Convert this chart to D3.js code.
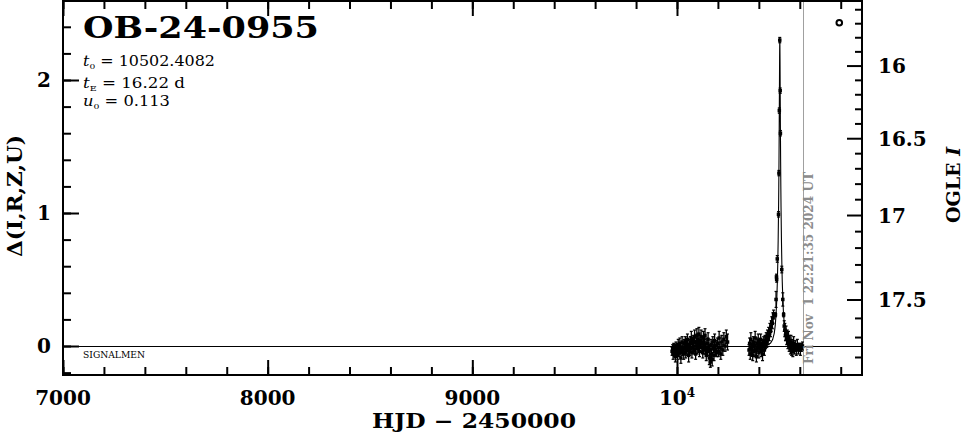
<!DOCTYPE html>
<html><head><meta charset="utf-8">
<script src="https://cdn.jsdelivr.net/npm/d3@7"></script>
<style>body{margin:0;background:#fff}svg{display:block}</style>
</head><body>
<svg id="c" width="966" height="434"></svg>
<script>
// ---------- data ----------
const eventName = "OB-24-0955";
const paramT0 = "10502.4082";
const paramTE = "16.22";
const paramU0 = "0.113";
const xMajorTicks = [7000, 8000, 9000, 10000];
const xTickLabels = ["7000", "8000", "9000", "10"];
const xMinorTicks = d3.range(7000, 10901, 200);
const yMajorTicks = [0, 1, 2];
const yMinorTicks = [-0.2,0,0.2,0.4,0.6,0.8,1,1.2,1.4,1.6,1.8,2,2.2,2.4];
const magMajorTicks = [16, 16.5, 17, 17.5];
const magTickLabels = ["16", "16.5", "17", "17.5"];
const magMinorTicks = [15.6,15.7,15.8,15.9,16,16.1,16.2,16.3,16.4,16.5,16.6,16.7,16.8,16.9,17,17.1,17.2,17.3,17.4,17.5,17.6,17.7,17.8];
const baseMag = 17.743;   // OGLE I at delta = 0
const sourceFrac = 0.669; // blending fraction giving the right-hand axis
const nowHJD = 10616.43;
const nowLabel = "Fri Nov  1 22:21:35 2024 UT";
const legendMarker = [[10793, 2.43]];

// [HJD-2450000, delta, error]
const season2023 = [
[9976,-0.04,0.03],[9979,-0.02,0.03],[9981,-0.06,0.04],[9984,-0.01,0.03],[9987,-0.05,0.03],
[9990,-0.03,0.04],[9992,-0.08,0.04],[9995,0.00,0.03],[9998,-0.04,0.03],[10001,-0.02,0.04],
[10003,-0.07,0.03],[10006,0.01,0.04],[10009,-0.03,0.03],[10011,-0.05,0.03],[10014,0.02,0.04],
[10017,-0.01,0.03],[10019,-0.09,0.04],[10022,-0.03,0.03],[10025,0.03,0.04],[10027,-0.04,0.03],
[10030,-0.01,0.03],[10033,-0.06,0.04],[10035,0.02,0.03],[10038,-0.02,0.04],[10041,0.04,0.03],
[10043,-0.05,0.04],[10046,0.00,0.03],[10049,-0.03,0.04],[10051,0.05,0.04],[10054,-0.01,0.03],
[10057,-0.07,0.05],[10059,0.01,0.04],[10062,-0.04,0.03],[10065,0.03,0.04],[10067,-0.02,0.03],
[10070,0.06,0.05],[10073,-0.05,0.04],[10075,0.02,0.03],[10078,-0.01,0.04],[10081,0.04,0.04],
[10083,-0.03,0.03],[10086,0.07,0.05],[10089,0.00,0.04],[10091,-0.06,0.04],[10094,0.03,0.03],
[10097,0.08,0.05],[10099,-0.02,0.04],[10102,0.05,0.04],[10105,0.01,0.03],[10107,0.09,0.05],
[10110,-0.04,0.04],[10113,0.04,0.04],[10115,0.02,0.03],[10118,0.07,0.05],[10121,-0.01,0.04],
[10123,0.03,0.04],[10126,-0.05,0.04],[10129,0.06,0.05],[10131,-0.03,0.03],[10134,0.01,0.04],
[10137,0.08,0.05],[10140,-0.02,0.04],[10143,-0.07,0.04],[10146,0.02,0.04],[10149,-0.04,0.03],
[10152,0.05,0.05],[10155,-0.01,0.04],[10158,-0.09,0.05],[10160,-0.03,0.04],[10163,-0.12,0.04],
[10166,0.01,0.04],[10169,-0.06,0.04],[10172,-0.10,0.05],[10175,0.03,0.04],[10178,-0.02,0.03],
[10181,-0.07,0.04],[10184,0.04,0.05],[10187,-0.03,0.04],[10190,0.00,0.04],[10194,-0.05,0.03],
[10198,0.02,0.04],[10202,-0.04,0.04],[10206,0.06,0.05],[10210,-0.01,0.04],[10214,-0.06,0.04],
[10219,0.03,0.05],[10224,-0.03,0.04],[10229,0.05,0.05],[10235,0.00,0.04],[10241,0.07,0.05],
[10247,0.03,0.06]
];
const season2024 = [
[10352,-0.03,0.04],[10355,0.02,0.04],[10358,-0.06,0.04],[10361,0.05,0.05],[10364,-0.02,0.04],
[10367,0.01,0.03],[10370,-0.07,0.04],[10373,0.03,0.04],[10376,-0.04,0.04],[10379,0.00,0.03],
[10382,0.06,0.05],[10385,-0.03,0.04],[10388,-0.08,0.04],[10391,0.02,0.04],[10394,-0.01,0.03],
[10397,0.04,0.05],[10400,-0.05,0.04],[10403,0.01,0.04],[10406,-0.02,0.03],[10409,0.05,0.04],
[10412,-0.04,0.04],[10415,0.02,0.03],[10418,-0.06,0.05],[10421,0.00,0.04],[10424,0.03,0.04],
[10427,-0.03,0.04],[10430,0.04,0.04],[10433,0.01,0.03],[10436,0.06,0.04],[10439,0.03,0.04],
[10442,0.08,0.04],[10445,0.05,0.04],[10448,0.10,0.04],[10451,0.08,0.04],[10454,0.13,0.04],
[10457,0.11,0.04],[10460,0.15,0.04],[10463,0.18,0.04],[10466,0.17,0.04],[10469,0.21,0.04],
[10472,0.24,0.03],[10481,0.235,0.015],[10484,0.35,0.06],[10486,0.52,0.02],[10487,0.50,0.02],
[10490,0.655,0.025],[10496,0.99,0.02],[10498,1.30,0.02],[10500,1.77,0.02],[10502.2,2.30,0.02],
[10504.3,1.92,0.02],[10505.4,1.60,0.02],[10512,0.575,0.025],[10517,0.35,0.05],[10521,0.235,0.015],
[10524,0.15,0.04],[10527,0.12,0.05],[10530,0.08,0.04],[10533,0.10,0.05],[10536,0.05,0.04],
[10539,0.07,0.05],[10542,0.02,0.04],[10545,0.06,0.05],[10548,0.00,0.04],[10551,0.04,0.04],
[10554,-0.02,0.04],[10557,0.03,0.05],[10560,-0.03,0.04],[10563,0.01,0.04],[10566,-0.04,0.04],
[10570,0.02,0.05],[10574,-0.02,0.04],[10578,0.00,0.04],[10583,-0.03,0.04],[10588,0.01,0.04],
[10593,-0.02,0.04],[10598,-0.01,0.03],[10603,-0.03,0.04],[10608,-0.01,0.03],[10613,0.00,0.03]
];
// model light curve [HJD-2450000, delta]
const modelCurve = [
[10380,0.0],[10412.4,0.002],[10442.4,0.008],[10457.4,0.022],[10467.4,0.048],[10475.4,0.097],
[10480.4,0.159],[10484.4,0.248],[10487.4,0.340],[10490.4,0.483],[10492.4,0.616],[10494.4,0.795],
[10496.4,1.041],[10497.4,1.199],[10498.4,1.388],[10499.4,1.618],[10500.4,1.888],[10501.4,2.164],
[10501.9,2.265],[10502.4,2.303],[10502.9,2.265],[10503.4,2.164],[10504.4,1.888],[10505.4,1.618],
[10506.4,1.388],[10507.4,1.199],[10508.4,1.041],[10510.4,0.795],[10512.4,0.616],[10514.4,0.483],
[10517.4,0.340],[10520.4,0.248],[10524.4,0.159],[10529.4,0.097],[10537.4,0.048],[10547.4,0.022],
[10562.4,0.008],[10592.4,0.002],[10616,0.0]
];

// ---------- layout ----------
const L = 63, R = 862, T = 1, B = 375;
const serif = "'DejaVu Serif', 'Liberation Serif', serif";
const svg = d3.select("#c");
const x = d3.scaleLinear().domain([7000, 10904]).range([L, R]);
const y = d3.scaleLinear().domain([-0.218, 2.594]).range([B, T]);
const magToDelta = m => 2.5 * Math.log10((Math.pow(10, 0.4 * (baseMag - m)) - (1 - sourceFrac)) / sourceFrac);

const g = svg.append("g");

// zero line
g.append("line").attr("x1", L).attr("x2", R).attr("y1", y(0) + 0.5).attr("y2", y(0) + 0.5)
  .attr("stroke", "#000").attr("stroke-width", 1);

// "now" line
g.append("line").attr("x1", Math.round(x(nowHJD)) + 0.5).attr("x2", Math.round(x(nowHJD)) + 0.5)
  .attr("y1", T).attr("y2", B)
  .attr("stroke", "#a0a0a0").attr("stroke-width", 1);

// axes ticks
function tickAxis(axisGen, transform, values, size) {
  const a = g.append("g").attr("transform", transform)
    .call(axisGen.tickValues(values).tickSize(size).tickFormat(""));
  a.select(".domain").remove();
  a.selectAll("line").attr("stroke", "#000").attr("stroke-width", 2);
}
tickAxis(d3.axisBottom(x), `translate(0,${B})`, xMinorTicks, -8);
tickAxis(d3.axisBottom(x), `translate(0,${B})`, xMajorTicks, -15);
tickAxis(d3.axisTop(x), `translate(0,${T})`, xMinorTicks, -8);
tickAxis(d3.axisTop(x), `translate(0,${T})`, xMajorTicks, -15);
tickAxis(d3.axisLeft(y), `translate(${L},0)`, yMinorTicks, -8);
tickAxis(d3.axisLeft(y), `translate(${L},0)`, yMajorTicks, -16);

// right magnitude axis ticks
g.append("g").selectAll("line").data(magMinorTicks).join("line")
  .attr("x1", d => R - (magMajorTicks.includes(d) ? 15 : 7)).attr("x2", R)
  .attr("y1", d => y(magToDelta(d))).attr("y2", d => y(magToDelta(d)))
  .attr("stroke", "#000").attr("stroke-width", 2);

// model curve
const line = d3.line().x(d => x(d[0])).y(d => y(d[1]));
g.append("path").datum(modelCurve).attr("d", line).attr("fill", "none")
  .attr("stroke", "#000").attr("stroke-width", 1.1);

// data points with error bars
const allData = season2023.concat(season2024);
const pts = g.append("g").selectAll("g").data(allData).join("g");
pts.append("line").attr("x1", d => x(d[0])).attr("x2", d => x(d[0]))
  .attr("y1", d => y(d[1] - d[2])).attr("y2", d => y(d[1] + d[2]))
  .attr("stroke", "#000").attr("stroke-width", 1.3);
pts.append("line").attr("x1", d => x(d[0]) - 1.5).attr("x2", d => x(d[0]) + 1.5)
  .attr("y1", d => y(d[1] + d[2])).attr("y2", d => y(d[1] + d[2]))
  .attr("stroke", "#000").attr("stroke-width", 1.2);
pts.append("line").attr("x1", d => x(d[0]) - 1.5).attr("x2", d => x(d[0]) + 1.5)
  .attr("y1", d => y(d[1] - d[2])).attr("y2", d => y(d[1] - d[2]))
  .attr("stroke", "#000").attr("stroke-width", 1.2);
pts.append("rect").attr("x", d => x(d[0]) - 1.75).attr("y", d => y(d[1]) - 1.75)
  .attr("width", 3.5).attr("height", 3.5).attr("fill", "#000");

// legend circle
g.append("g").selectAll("circle").data(legendMarker).join("circle")
  .attr("cx", d => x(d[0])).attr("cy", d => y(d[1])).attr("r", 2.8)
  .attr("fill", "none").attr("stroke", "#000").attr("stroke-width", 2);

// frame
g.append("rect").attr("x", L).attr("y", T).attr("width", R - L).attr("height", B - T)
  .attr("fill", "none").attr("stroke", "#000").attr("stroke-width", 2);

// ---------- text ----------
const txt = svg.append("g").attr("font-family", serif).attr("fill", "#000");

// x tick labels
xMajorTicks.forEach((v, i) => {
  const t = txt.append("text").attr("x", x(v)).attr("y", 405).attr("text-anchor", "middle")
    .attr("font-size", 20).attr("font-weight", "bold").text(xTickLabels[i]);
  if (v === 10000) t.append("tspan").attr("dy", -8).attr("font-size", 12).text("4");
});
// left tick labels
yMajorTicks.forEach(v => {
  txt.append("text").attr("x", 51).attr("y", y(v) + 7).attr("text-anchor", "end")
    .attr("font-size", 20).attr("font-weight", "bold").text(String(v));
});
// right tick labels
magMajorTicks.forEach((v, i) => {
  txt.append("text").attr("x", 878).attr("y", y(magToDelta(v)) + 7)
    .attr("font-size", 20).attr("font-weight", "bold").text(magTickLabels[i]);
});

// axis titles
txt.append("text").attr("x", 474).attr("y", 428).attr("text-anchor", "middle")
  .attr("font-size", 20).attr("font-weight", "bold")
  .attr("textLength", 204).attr("lengthAdjust", "spacingAndGlyphs").text("HJD \u2212 2450000");
txt.append("text").attr("transform", `translate(22,196) rotate(-90)`)
  .attr("text-anchor", "middle").attr("font-size", 20).attr("font-weight", "bold")
  .attr("textLength", 122).attr("lengthAdjust", "spacingAndGlyphs")
  .text("\u0394(I,R,Z,U)");
const og = txt.append("text").attr("transform", `translate(960,185) rotate(-90)`)
  .attr("text-anchor", "middle").attr("font-size", 19).attr("font-weight", "bold");
og.append("tspan").text("OGLE ");
og.append("tspan").attr("font-style", "italic").text("I");

// title
txt.append("text").attr("x", 83).attr("y", 38).attr("font-size", 30).attr("font-weight", "bold")
  .attr("textLength", 236).attr("lengthAdjust", "spacingAndGlyphs").text(eventName);

// parameters
function paramLine(yy, sym, sub, val, len) {
  const t = txt.append("text").attr("x", 83).attr("y", yy).attr("font-size", 14)
    .attr("textLength", len).attr("lengthAdjust", "spacingAndGlyphs");
  t.append("tspan").attr("font-style", "italic").text(sym);
  t.append("tspan").attr("font-size", 8).attr("dy", 3).text(sub);
  t.append("tspan").attr("dy", -3).text(" = " + val);
}
paramLine(66, "t", "0", paramT0, 132);
paramLine(88, "t", "E", paramTE + " d", 102);
paramLine(106, "u", "0", paramU0, 87);

// signalmen
txt.append("text").attr("x", 83).attr("y", 358).attr("font-size", 8.5)
  .attr("textLength", 62).attr("lengthAdjust", "spacingAndGlyphs").text("SIGNALMEN");

// now label
txt.append("text").attr("transform", `translate(${x(nowHJD) + 10},364) rotate(-90)`)
  .attr("font-size", 12).attr("font-weight", "bold").attr("fill", "#8c8c8c")
  .attr("textLength", 192).attr("lengthAdjust", "spacingAndGlyphs")
  .style("white-space", "pre").text(nowLabel);
</script>
</body></html>
